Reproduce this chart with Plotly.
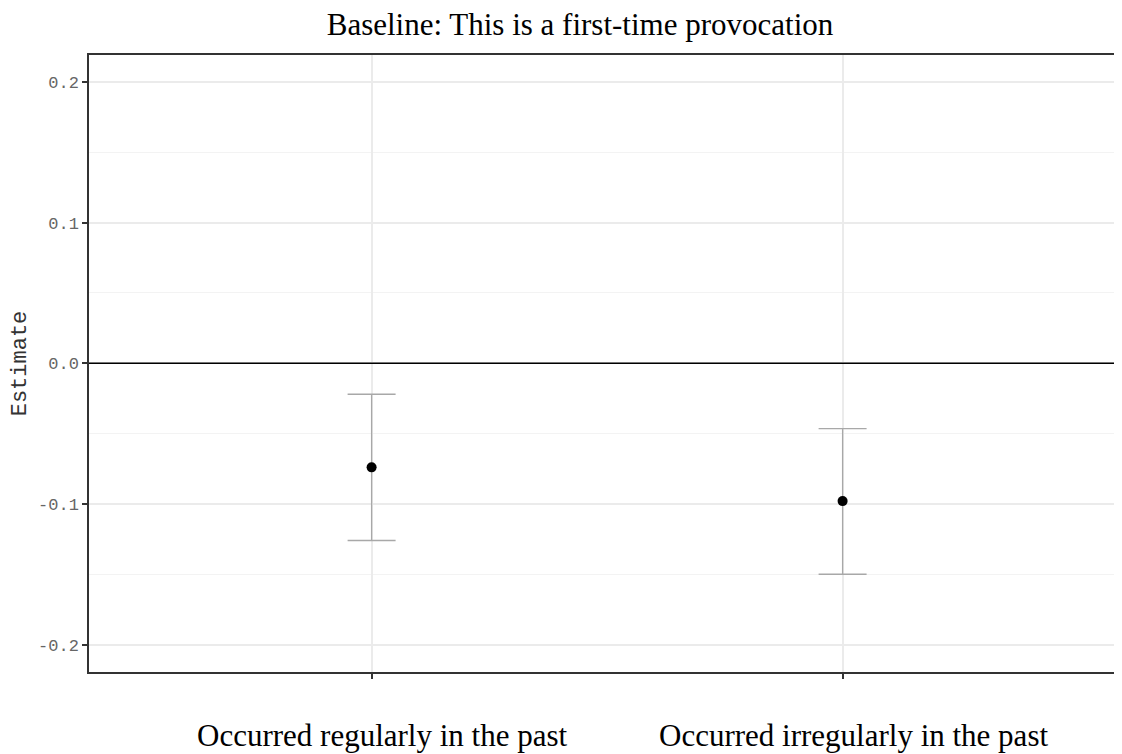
import plotly.graph_objects as go

categories = ["Occurred regularly in the past", "Occurred irregularly in the past"]
positions = [1, 2]
estimates = [-0.074, -0.098]
upper = [-0.022, -0.0465]
lower = [-0.126, -0.150]
y_ticks = [-0.2, -0.1, 0.0, 0.1, 0.2]
y_tick_labels = ["-0.2", "-0.1", "0.0", "0.1", "0.2"]

err_plus = [u - e for u, e in zip(upper, estimates)]
err_minus = [e - l for e, l in zip(estimates, lower)]

W, H = 1106, 754
OFF = 8  # page body margin
L, T, B = 89 - OFF, 55 - OFF, H - (672 - OFF)
PX_PER_UNIT = 471.0

fig = go.Figure()
fig.add_trace(go.Scatter(
    x=positions, y=estimates, mode="markers",
    marker=dict(color="black", size=10),
    error_y=dict(type="data", symmetric=False, array=err_plus, arrayminus=err_minus,
                 color="#a8a8a8", thickness=1.3, width=24),
    showlegend=False,
))

fig.add_hline(y=0, line=dict(color="black", width=1.6))

for p, c in zip(positions, categories):
    fig.add_annotation(x=p, y=0, xref="x", yref="paper", yshift=-63, xshift=11,
                       yanchor="middle", text=c, showarrow=False,
                       font=dict(family="Liberation Serif", size=31, color="black"))

fig.update_layout(
    width=W, height=H,
    margin=dict(l=L, r=0, t=T, b=B),
    paper_bgcolor="white", plot_bgcolor="white",
    title=dict(text="Baseline: This is a first-time provocation",
               xref="container", x=(580 - OFF) / W, xanchor="center",
               y=1 - (24 - OFF) / H, yanchor="middle",
               font=dict(family="Liberation Serif", size=31, color="black")),
    xaxis=dict(range=[0.4, 0.4 + (W - L) / PX_PER_UNIT], tickvals=positions, ticktext=["", ""],
               showgrid=True, gridcolor="#ebebeb", gridwidth=1.5,
               showline=True, linecolor="#333333", linewidth=1.5, mirror=True,
               ticks="outside", ticklen=5, tickcolor="#333333", tickwidth=1.5,
               zeroline=False),
    yaxis=dict(range=[-0.2195, 0.2192], tickvals=y_ticks, ticktext=y_tick_labels,
               showgrid=True, gridcolor="#ebebeb", gridwidth=1.5,
               minor=dict(dtick=0.05, showgrid=True, gridcolor="#f3f3f3", gridwidth=1),
               showline=True, linecolor="#333333", linewidth=1.5,
               ticks="outside", ticklen=5, tickcolor="#333333", tickwidth=1.5,
               zeroline=False,
               tickfont=dict(family="Liberation Mono", size=17, color="#666666"),
               title=dict(text="Estimate", standoff=8,
                          font=dict(family="Liberation Mono", size=22, color="#333333"))),
)

fig.write_html("out.html")
